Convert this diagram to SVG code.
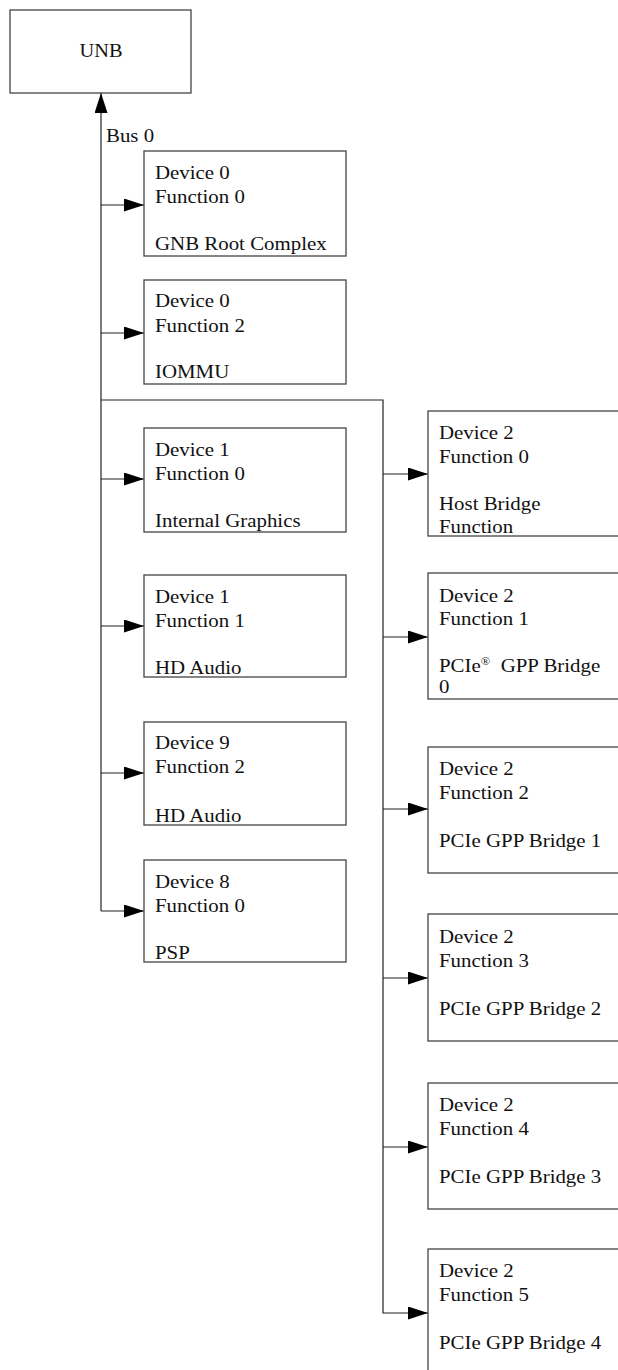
<svg xmlns="http://www.w3.org/2000/svg" width="618" height="1370" viewBox="0 0 618 1370">
<style>
.box{fill:#fff;stroke:#444;stroke-width:1.3}
.t{font-family:'Liberation Serif','Times New Roman',serif;font-size:18.5px;fill:#111}
.c{fill:none;stroke:#222;stroke-width:1.2}
</style>
<defs>
<marker id="ah" markerUnits="userSpaceOnUse" markerWidth="21" markerHeight="14" refX="20" refY="6.5" orient="auto">
<path d="M0,0 L20,6.5 L0,13 Z" fill="#000"/>
</marker>
</defs>
<rect width="618" height="1370" fill="#fff"/>
<g id="connectors">
<path class="c" d="M101,911 V93" marker-end="url(#ah)"/>
<path class="c" d="M101,205 H144" marker-end="url(#ah)"/>
<path class="c" d="M101,333 H144" marker-end="url(#ah)"/>
<path class="c" d="M101,479 H144" marker-end="url(#ah)"/>
<path class="c" d="M101,626 H144" marker-end="url(#ah)"/>
<path class="c" d="M101,773 H144" marker-end="url(#ah)"/>
<path class="c" d="M101,911 H144" marker-end="url(#ah)"/>
<path class="c" d="M101,400 H383 V1313 H428" marker-end="url(#ah)"/>
<path class="c" d="M383,474 H428" marker-end="url(#ah)"/>
<path class="c" d="M383,637 H428" marker-end="url(#ah)"/>
<path class="c" d="M383,809 H428" marker-end="url(#ah)"/>
<path class="c" d="M383,978 H428" marker-end="url(#ah)"/>
<path class="c" d="M383,1147 H428" marker-end="url(#ah)"/>
<g transform="translate(106,0) scale(1.13,1)"><text class="t" x="0" y="142">Bus 0</text></g>
</g>
<g id="unb">
<rect class="box" x="10" y="10" width="181" height="83"/>
<g transform="translate(101,0) scale(1.1,1)"><text class="t" x="0" y="57.5" text-anchor="middle">UNB</text></g>
</g>
<g id="d0f0">
<rect class="box" x="144" y="151" width="202" height="105"/>
<g transform="translate(155,0) scale(1.13,1)">
<text class="t" x="0" y="179">Device 0</text>
<text class="t" x="0" y="203">Function 0</text>
<text class="t" x="0" y="250">GNB Root Complex</text>
</g>
</g>
<g id="d0f2">
<rect class="box" x="144" y="280" width="202" height="104"/>
<g transform="translate(155,0) scale(1.13,1)">
<text class="t" x="0" y="307.5">Device 0</text>
<text class="t" x="0" y="332">Function 2</text>
<text class="t" x="0" y="378.5">IOMMU</text>
</g>
</g>
<g id="d1f0">
<rect class="box" x="144" y="428" width="202" height="104"/>
<g transform="translate(155,0) scale(1.13,1)">
<text class="t" x="0" y="456">Device 1</text>
<text class="t" x="0" y="480">Function 0</text>
<text class="t" x="0" y="527">Internal Graphics</text>
</g>
</g>
<g id="d1f1">
<rect class="box" x="144" y="575" width="202" height="102"/>
<g transform="translate(155,0) scale(1.13,1)">
<text class="t" x="0" y="603">Device 1</text>
<text class="t" x="0" y="627">Function 1</text>
<text class="t" x="0" y="674">HD Audio</text>
</g>
</g>
<g id="d9f2">
<rect class="box" x="144" y="722" width="202" height="103"/>
<g transform="translate(155,0) scale(1.13,1)">
<text class="t" x="0" y="749.5">Device 9</text>
<text class="t" x="0" y="773.5">Function 2</text>
<text class="t" x="0" y="822">HD Audio</text>
</g>
</g>
<g id="d8f0">
<rect class="box" x="144" y="860" width="202" height="102"/>
<g transform="translate(155,0) scale(1.13,1)">
<text class="t" x="0" y="888">Device 8</text>
<text class="t" x="0" y="912">Function 0</text>
<text class="t" x="0" y="959">PSP</text>
</g>
</g>
<g id="d2f0">
<rect class="box" x="428" y="411" width="220" height="125"/>
<g transform="translate(439,0) scale(1.13,1)">
<text class="t" x="0" y="439">Device 2</text>
<text class="t" x="0" y="463">Function 0</text>
<text class="t" x="0" y="510">Host Bridge</text>
<text class="t" x="0" y="533">Function</text>
</g>
</g>
<g id="d2f1">
<rect class="box" x="428" y="573" width="220" height="126"/>
<g transform="translate(439,0) scale(1.13,1)">
<text class="t" x="0" y="602">Device 2</text>
<text class="t" x="0" y="625">Function 1</text>
<text class="t" x="0" y="672">PCIe<tspan font-size="11" dy="-7">®</tspan><tspan dy="7" xml:space="preserve">  GPP Bridge</tspan></text>
<text class="t" x="0" y="693">0</text>
</g>
</g>
<g id="d2f2">
<rect class="box" x="428" y="747" width="220" height="126"/>
<g transform="translate(439,0) scale(1.13,1)">
<text class="t" x="0" y="775">Device 2</text>
<text class="t" x="0" y="799">Function 2</text>
<text class="t" x="0" y="847">PCIe GPP Bridge 1</text>
</g>
</g>
<g id="d2f3">
<rect class="box" x="428" y="914" width="220" height="127"/>
<g transform="translate(439,0) scale(1.13,1)">
<text class="t" x="0" y="943">Device 2</text>
<text class="t" x="0" y="967">Function 3</text>
<text class="t" x="0" y="1015">PCIe GPP Bridge 2</text>
</g>
</g>
<g id="d2f4">
<rect class="box" x="428" y="1083" width="220" height="126"/>
<g transform="translate(439,0) scale(1.13,1)">
<text class="t" x="0" y="1111">Device 2</text>
<text class="t" x="0" y="1135">Function 4</text>
<text class="t" x="0" y="1183">PCIe GPP Bridge 3</text>
</g>
</g>
<g id="d2f5">
<rect class="box" x="428" y="1249" width="220" height="130"/>
<g transform="translate(439,0) scale(1.13,1)">
<text class="t" x="0" y="1277">Device 2</text>
<text class="t" x="0" y="1301">Function 5</text>
<text class="t" x="0" y="1349">PCIe GPP Bridge 4</text>
</g>
</g>
</svg>
